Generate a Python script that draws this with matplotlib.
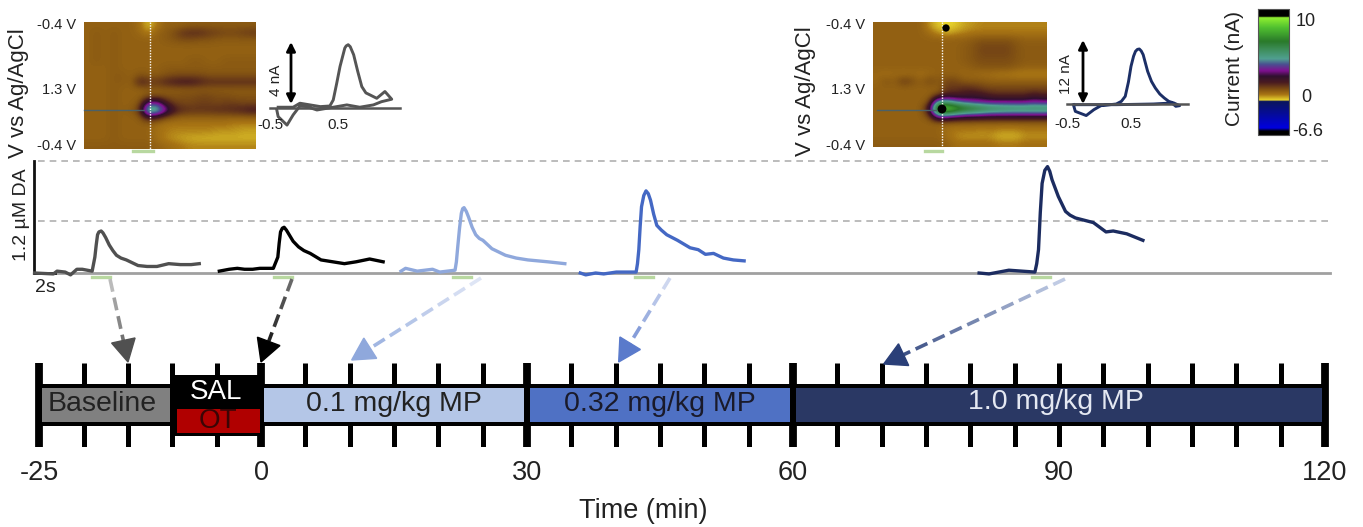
import matplotlib
matplotlib.use('Agg')
import matplotlib.pyplot as plt
import numpy as np
from matplotlib.colors import LinearSegmentedColormap, Normalize

W, H = 1363, 527
plt.rcParams['font.family'] = ['Liberation Sans', 'DejaVu Sans']
TXT = '#222222'

# DA traces: seconds from stim onset, uM DA
t1 = [-6.6, -4.5, -4.1, -3.2, -2.6, -1.9, -1.3, -0.2, 0.1, 0.25, 0.4, 0.55, 0.8, 1.0, 1.3, 1.7, 2.1, 2.5, 3.0, 3.6, 4.9, 5.9, 7.0, 8.3, 9.6, 10.8, 11.7]
v1 = [0.0, -0.01, 0.02, 0.01, -0.02, 0.04, 0.04, 0.02, 0.17, 0.30, 0.41, 0.44, 0.45, 0.43, 0.38, 0.30, 0.24, 0.19, 0.16, 0.14, 0.08, 0.07, 0.07, 0.10, 0.09, 0.09, 0.10]
t2 = [-6.3, -5.2, -4.3, -3.5, -2.6, -1.8, -0.3, 0.2, 0.35, 0.5, 0.7, 0.9, 1.15, 1.4, 1.9, 2.5, 3.1, 3.8, 5.0, 6.3, 7.6, 8.9, 10.4, 11.9]
v2 = [0.02, 0.04, 0.05, 0.04, 0.04, 0.05, 0.05, 0.17, 0.32, 0.44, 0.48, 0.49, 0.46, 0.42, 0.34, 0.28, 0.24, 0.21, 0.14, 0.12, 0.10, 0.12, 0.15, 0.12]
t3 = [-6.0, -5.5, -4.2, -2.5, -1.7, 0.0, 0.15, 0.3, 0.5, 0.7, 0.85, 1.0, 1.25, 1.5, 1.9, 2.3, 2.7, 3.1, 4.1, 5.6, 6.8, 8.1, 10.3, 12.2]
v3 = [0.02, 0.05, 0.02, 0.04, 0.01, 0.03, 0.12, 0.28, 0.48, 0.64, 0.69, 0.70, 0.66, 0.60, 0.49, 0.41, 0.37, 0.35, 0.26, 0.19, 0.16, 0.14, 0.12, 0.10]
t4 = [-6.3, -5.7, -4.6, -3.7, -2.3, -0.1, 0.05, 0.2, 0.35, 0.5, 0.75, 1.0, 1.25, 1.5, 1.85, 2.2, 2.7, 3.3, 4.5, 5.9, 6.8, 7.6, 8.5, 9.6, 10.7, 11.9]
v4 = [0.0, -0.02, 0.0, -0.01, 0.01, 0.01, 0.10, 0.25, 0.50, 0.71, 0.83, 0.88, 0.85, 0.78, 0.63, 0.51, 0.46, 0.41, 0.35, 0.27, 0.25, 0.20, 0.21, 0.16, 0.14, 0.13]
t5 = [-6.1, -5.0, -2.8, 0.1, 0.3, 0.5, 0.7, 0.9, 1.2, 1.5, 1.75, 2.0, 2.7, 3.5, 4.0, 4.6, 6.6, 8.0, 8.8, 10.3, 12.1]
v5 = [0.0, -0.01, 0.03, 0.01, 0.10, 0.25, 0.65, 0.96, 1.10, 1.14, 1.09, 1.0, 0.82, 0.66, 0.62, 0.59, 0.54, 0.44, 0.45, 0.42, 0.35]
onsets = [10.44, 30.67, 50.56, 70.78, 114.89]
trace_colors = ['#505050', '#000000', '#8fa8dc', '#4468c4', '#1c2c60']

# cyclic voltammograms: V, nA
cv1_v = [-0.38, -0.25, -0.16, -0.06, 0.09, 0.24, 0.38, 0.43, 0.48, 0.53, 0.57, 0.60, 0.62, 0.65, 0.68, 0.73, 0.79, 0.85, 0.91, 0.97, 1.07, 1.19, 1.29, 1.14, 1.02, 0.82, 0.63, 0.43, 0.19, 0.04, -0.06, -0.16, -0.25, -0.38, -0.40]
cv1_i = [0.07, 0.07, 0.07, 0.33, 0.22, 0.11, 0.15, 0.54, 1.6, 2.72, 3.4, 3.91, 4.05, 4.13, 4.0, 3.48, 2.4, 1.41, 1.0, 0.87, 0.65, 1.09, 0.59, 0.43, 0.22, 0.07, 0.22, 0.07, -0.11, 0.11, 0.15, -0.43, -1.09, -0.54, -0.11]
cv2_v = [-0.40, -0.37, -0.20, -0.08, 0.03, 0.27, 0.35, 0.41, 0.46, 0.50, 0.54, 0.57, 0.60, 0.63, 0.66, 0.69, 0.76, 0.82, 0.88, 0.95, 1.02, 1.09, 1.17, 1.26, 1.20, 1.14, 0.85, 0.27, -0.37]
cv2_i = [-0.13, -1.4, -2.2, -1.08, -0.32, 0.0, 0.51, 1.46, 4.2, 7.17, 9.1, 10.03, 10.4, 10.48, 10.1, 9.4, 6.22, 4.3, 3.05, 1.9, 1.14, 0.5, 0.19, -0.32, -0.44, 0.19, 0.0, -0.13, -0.13]

# colour plots, nA (rows top to bottom, columns in time)
heat1 = [
    [1.0, 1.0, 1.0, 1.0, 1.0, 1.0, 0.8, 0.2, 0.7, 1.0, 1.0, 1.0, 1.1, 1.1, 1.1, 1.1, 1.1, 1.1, 1.1, 1.1],
    [1.0, 1.1, 1.0, 1.1, 1.0, 1.0, 0.9, 0.6, 1.0, 1.1, 1.3, 1.7, 1.8, 1.8, 1.6, 1.5, 1.4, 1.4, 1.5, 1.6],
    [1.0, 1.1, 1.0, 1.1, 1.0, 1.0, 1.0, 1.0, 1.0, 1.1, 1.2, 1.3, 1.3, 1.2, 1.2, 1.1, 1.1, 1.1, 1.1, 1.1],
    [1.0, 1.1, 1.0, 1.1, 1.0, 1.0, 1.0, 1.0, 1.0, 1.0, 1.0, 1.0, 1.0, 1.0, 1.0, 1.0, 1.0, 1.0, 1.0, 1.0],
    [1.0, 1.1, 1.0, 1.1, 1.0, 1.0, 1.0, 1.0, 1.0, 1.0, 1.0, 1.0, 1.0, 1.0, 1.0, 1.0, 1.0, 1.0, 1.0, 1.0],
    [1.0, 1.1, 1.0, 1.1, 1.0, 1.0, 1.0, 1.0, 1.0, 1.0, 1.0, 1.0, 1.1, 1.1, 1.0, 1.0, 1.1, 1.1, 1.1, 1.1],
    [1.0, 1.0, 1.0, 1.1, 1.0, 1.0, 1.0, 1.0, 1.0, 1.1, 1.1, 1.1, 1.1, 1.1, 1.1, 1.1, 1.1, 1.1, 1.1, 1.1],
    [1.0, 1.0, 1.0, 1.1, 1.1, 1.0, 1.2, 1.1, 1.1, 1.2, 1.3, 1.3, 1.3, 1.3, 1.2, 1.2, 1.2, 1.2, 1.2, 1.2],
    [1.0, 1.0, 1.0, 1.1, 1.1, 1.0, 2.0, 1.7, 1.6, 1.9, 2.1, 2.2, 2.2, 2.0, 1.8, 1.8, 1.8, 1.8, 1.8, 1.8],
    [1.0, 1.0, 1.0, 1.1, 1.0, 1.0, 1.0, 1.1, 1.1, 1.1, 1.1, 1.1, 1.1, 1.1, 1.1, 1.1, 1.1, 1.1, 1.1, 1.1],
    [1.0, 1.0, 1.0, 1.1, 1.0, 1.0, 1.0, 1.2, 1.2, 1.2, 1.2, 1.3, 1.3, 1.4, 1.4, 1.3, 1.3, 1.2, 1.2, 1.2],
    [1.0, 1.0, 1.0, 1.1, 1.0, 1.0, 1.2, 3.4, 3.6, 2.2, 1.5, 1.4, 1.4, 1.5, 1.5, 1.4, 1.5, 1.5, 1.4, 1.4],
    [1.0, 1.0, 1.0, 1.1, 1.0, 1.1, 1.6, 5.8, 5.4, 3.6, 2.2, 1.8, 1.7, 1.7, 1.7, 1.8, 1.8, 1.9, 2.0, 2.2],
    [1.0, 1.0, 1.0, 1.1, 1.0, 1.0, 1.1, 2.2, 1.9, 1.3, 1.1, 1.0, 1.0, 1.0, 1.0, 1.0, 1.0, 1.0, 1.0, 1.0],
    [1.0, 1.0, 1.0, 1.1, 1.0, 1.0, 1.0, 1.0, 0.8, 0.7, 0.7, 0.7, 0.7, 0.7, 0.7, 0.7, 0.7, 0.6, 0.6, 0.6],
    [1.0, 1.0, 1.0, 1.1, 1.0, 1.0, 1.0, 1.0, 0.8, 0.7, 0.6, 0.6, 0.6, 0.6, 0.6, 0.5, 0.5, 0.5, 0.4, 0.4],
    [1.0, 1.0, 1.0, 1.1, 1.0, 1.0, 1.0, 1.0, 0.8, 0.6, 0.5, 0.4, 0.35, 0.3, 0.3, 0.3, 0.3, 0.3, 0.3, 0.3],
    [1.1, 1.1, 1.1, 1.1, 1.1, 1.1, 1.1, 1.1, 1.0, 0.9, 0.8, 0.7, 0.6, 0.6, 0.6, 0.6, 0.6, 0.6, 0.6, 0.6],
]
heat2 = [
    [1.0, 1.0, 1.0, 1.0, 1.0, 1.0, 0.5, 0.15, 0.05, 0.15, 0.4, 0.5, 0.6, 0.6, 0.6, 0.6, 0.6, 0.6, 0.6, 0.6],
    [1.0, 1.0, 1.0, 1.0, 1.0, 1.0, 0.8, 0.5, 0.3, 0.5, 0.6, 0.7, 0.7, 0.7, 0.7, 0.7, 0.7, 0.7, 0.7, 0.7],
    [1.0, 1.0, 1.0, 1.0, 1.0, 1.0, 1.0, 1.0, 1.0, 1.0, 1.0, 1.1, 1.2, 1.2, 1.2, 1.2, 1.1, 1.0, 1.0, 1.0],
    [1.0, 1.0, 1.0, 1.0, 1.0, 1.0, 1.0, 1.0, 1.0, 1.0, 1.1, 1.2, 1.4, 1.4, 1.4, 1.4, 1.2, 1.1, 1.1, 1.1],
    [1.0, 1.0, 1.0, 1.0, 1.0, 1.0, 1.0, 1.0, 1.0, 1.0, 1.1, 1.2, 1.4, 1.4, 1.4, 1.4, 1.2, 1.1, 1.1, 1.1],
    [1.0, 1.0, 1.0, 1.0, 1.0, 1.0, 1.0, 1.0, 1.0, 1.0, 1.1, 1.2, 1.3, 1.3, 1.3, 1.3, 1.2, 1.1, 1.1, 1.1],
    [1.0, 1.0, 1.0, 1.0, 1.0, 1.0, 1.0, 1.0, 1.0, 1.0, 1.0, 1.1, 1.2, 1.2, 1.2, 1.2, 1.1, 1.0, 1.0, 1.0],
    [0.9, 0.8, 0.9, 0.8, 0.9, 0.8, 0.9, 1.0, 1.0, 1.0, 0.9, 0.9, 0.8, 0.8, 0.7, 0.7, 0.6, 0.6, 0.6, 0.6],
    [0.9, 1.2, 1.0, 1.6, 1.3, 1.0, 1.4, 1.1, 1.4, 1.4, 1.1, 1.1, 1.1, 1.0, 1.0, 1.0, 1.0, 1.0, 1.0, 1.0],
    [1.0, 1.0, 1.0, 1.0, 1.0, 1.0, 1.0, 1.0, 1.6, 1.6, 1.8, 1.7, 1.5, 1.4, 1.4, 1.4, 1.4, 1.4, 1.4, 1.4],
    [1.0, 1.0, 1.0, 1.0, 1.0, 1.0, 1.0, 1.3, 2.0, 2.0, 2.1, 2.3, 2.2, 1.9, 1.8, 1.8, 1.8, 1.8, 2.1, 1.9],
    [1.0, 1.0, 1.0, 1.0, 1.0, 1.0, 1.2, 5.0, 5.0, 4.2, 3.7, 3.4, 3.2, 3.1, 3.1, 3.1, 3.1, 3.1, 3.4, 3.2],
    [1.0, 1.0, 1.0, 1.0, 1.0, 1.0, 2.4, 8.5, 9.0, 8.2, 7.4, 7.0, 6.6, 6.2, 6.0, 5.9, 5.8, 5.8, 5.8, 5.8],
    [1.0, 1.0, 1.0, 1.0, 1.0, 1.0, 1.4, 4.2, 3.9, 3.4, 3.1, 3.0, 2.9, 2.8, 2.8, 2.8, 2.8, 2.8, 2.8, 2.8],
    [1.0, 1.0, 1.0, 1.0, 1.0, 1.0, 1.0, 1.0, 1.0, 1.0, 1.0, 1.0, 1.0, 1.0, 1.0, 1.0, 1.0, 1.0, 1.0, 1.0],
    [1.0, 1.0, 1.0, 1.0, 1.0, 1.0, 1.0, 1.0, 0.8, 0.7, 0.7, 0.7, 0.6, 0.7, 0.6, 0.6, 0.6, 0.7, 0.7, 0.7],
    [1.0, 1.0, 1.0, 1.0, 1.0, 1.0, 1.0, 1.0, 0.8, 0.6, 0.5, 0.5, 0.5, 0.5, 0.3, 0.3, 0.3, 0.5, 0.5, 0.5],
    [1.1, 1.1, 1.1, 1.1, 1.1, 1.1, 1.1, 1.1, 1.0, 0.8, 0.8, 0.8, 0.8, 0.8, 0.7, 0.7, 0.7, 0.8, 0.8, 0.8],
]

# colour scale, nA
cmap_vals = [-6.6, -5.9, -5.3, -0.25, -0.01, 0.01, 0.7, 1.2, 2.0, 2.7, 3.3, 4.0, 4.6, 5.5, 6.5, 8.0, 9.1, 9.25, 10.0]
cmap_cols = ['#000000', '#000000', '#0000e0', '#0a1560', '#0a1560', '#f0e030', '#a87414', '#845412', '#4a1c20', '#301030',
             '#801090', '#4a5090', '#50a090', '#409060', '#2a7a2a', '#50c030', '#90f030', '#000000', '#000000']

# timeline, min
tick_min = list(range(-25, 125, 5))
heavy_ticks = [-25, 0, 30, 60, 120]
label_ticks = [-25, 0, 30, 60, 90, 120]
phase_start = [-25, 0, 30, 60]
phase_end = [-10, 30, 60, 120]
phase_cols = ['#808080', '#b4c6e7', '#4f71c4', '#2a3864']
phase_names = ['Baseline', '0.1 mg/kg MP', '0.32 mg/kg MP', '1.0 mg/kg MP']
phase_txt = ['#222222', '#222222', '#1a1a2a', '#e4e8f2']
phase_txt_x = [-17.9, 15.0, 45.0, 89.6]
arrow_targets = [-15, 0, 10, 40, 70]


def px_axes(x0, y0, x1, y1):
    a = fig.add_axes([x0 / W, 1 - y1 / H, (x1 - x0) / W, (y1 - y0) / H])
    a.set_axis_off()
    return a


fig = plt.figure(figsize=(W / 100, H / 100), dpi=100)
pos = [(v - cmap_vals[0]) / (cmap_vals[-1] - cmap_vals[0]) for v in cmap_vals]
cmap = LinearSegmentedColormap.from_list('fscv', list(zip(pos, cmap_cols)), N=512)
norm = Normalize(cmap_vals[0], cmap_vals[-1])

# overlay in picture pixels, for labels and arrows
over = px_axes(0, 0, W, H)
over.set_xlim(0, W)
over.set_ylim(H, 0)
over.set_zorder(5)

# colour plots
for heat, box, stim_x in [(heat1, (84, 22, 256, 149), 150), (heat2, (873, 22, 1047, 147), 942)]:
    a = px_axes(*box)
    a.imshow(np.array(heat), cmap=cmap, norm=norm, aspect='auto', interpolation='bicubic')
    over.plot([box[0] + 4 if stim_x > 500 else box[0], stim_x - 6], [110, 110], color='#4a6068', lw=1, zorder=3)
    over.plot([stim_x, stim_x], [box[1], box[3]], color='white', lw=1, ls=(0, (1, 1)), zorder=3)
    over.plot([stim_x - 17, stim_x + 3 if stim_x < 500 else stim_x], [150.5, 150.5], color='#b8d8a0', lw=2.4, zorder=3)
    right = box[0] - 8
    for y, s in zip([25, 90, 146], ['-0.4 V', '1.3 V', '-0.4 V']):
        over.text(right, y, s, ha='right', va='center', fontsize=10.5, color=TXT)
# saturated spots on the 1.0 mg/kg plot
over.scatter([946, 942], [28, 109], s=[28, 40], marker='o', color='black', zorder=3, linewidths=0)

over.text(19, 93, 'V vs Ag/AgCl', rotation=90, ha='center', va='center', fontsize=16, color=TXT)
over.text(805, 91, 'V vs Ag/AgCl', rotation=90, ha='center', va='center', fontsize=16, color=TXT)

# voltammograms
for cv_v, cv_i, col, x05, pxv, y0, pxi, xr in [(cv1_v, cv1_i, '#555555', 338, 68, 108.3, 15.4, (270, 400)),
                                               (cv2_v, cv2_i, '#1c2f66', 1131, 64, 104, 5.25, (1067, 1188))]:
    a = px_axes(x05 - pxv, y0 - 70, x05 + pxv, y0 + 30)
    a.set_xlim(-0.5, 1.5)
    a.set_ylim(-30 / pxi, 70 / pxi)
    over.plot(xr, [y0, y0], color='#555555', lw=1.8, zorder=2)
    a.plot(cv_v, cv_i, color=col, lw=2.1, clip_on=False, solid_joinstyle='round')

for x, y0, y1 in [(291, 42, 104), (1083, 40, 104)]:
    over.annotate('', xy=(x, y0), xytext=(x, y1),
                  arrowprops=dict(arrowstyle='<|-|>', color='black', lw=2, mutation_scale=13, shrinkA=0, shrinkB=0))
over.text(276, 80, '4 nA', rotation=90, ha='center', va='center', fontsize=11, color=TXT)
over.text(1066, 74, '12 nA', rotation=90, ha='center', va='center', fontsize=11, color=TXT)
over.text(270, 125, '-0.5', ha='center', va='center', fontsize=11, color=TXT)
over.text(338, 125, '0.5', ha='center', va='center', fontsize=11, color=TXT)
over.text(1067, 124, '-0.5', ha='center', va='center', fontsize=11, color=TXT)
over.text(1131, 124, '0.5', ha='center', va='center', fontsize=11, color=TXT)

# colour bar
cb = px_axes(1258, 9, 1289, 135)
cb_vals = np.interp(np.linspace(1, 0, 256), [0, 0.27, 1], [-6.6, 0, 10]).reshape(-1, 1)
cb.imshow(cb_vals, cmap=cmap, norm=norm, aspect='auto', interpolation='bilinear')
over.plot([1258, 1289, 1289, 1258, 1258], [9, 9, 135, 135, 9], color='#555555', lw=0.8, zorder=3)
over.text(1235, 68, 'Current (nA)', rotation=90, ha='center', va='center', fontsize=15, color=TXT)
over.text(1306, 21, '10', ha='center', va='center', fontsize=13, color=TXT)
over.text(1306, 97, '0', ha='center', va='center', fontsize=13, color=TXT)
over.text(1308, 131, '-6.6', ha='center', va='center', fontsize=13, color=TXT)

# DA traces
tr = px_axes(0, 161, W, 273)
tr.set_xlim(0, W / 9)
tr.set_ylim(0, 1.2)
for y in [1.2, 0.56]:
    tr.plot([38 / 9, 1330 / 9], [y, y], color='#b0b0b0', lw=1.2, ls=(0, (4, 3)), clip_on=False)
tr.plot([35 / 9, 1330 / 9], [0, 0], color='#a0a0a0', lw=2, clip_on=False)
tr.plot([34 / 9, 34 / 9], [0, 1.2], color='#111111', lw=2, clip_on=False)
tr.plot([35 / 9, 55 / 9], [0, 0], color='#111111', lw=2, clip_on=False)
for t, v, on, col in zip([t1, t2, t3, t4, t5], [v1, v2, v3, v4, v5], onsets, trace_colors):
    tr.plot(np.array(t) + on, v, color=col, lw=2.4, solid_joinstyle='round', clip_on=False)
    tr.plot([on - 0.2, on + 1.8], [-0.04, -0.04], color='#b8d8a0', lw=2.4, clip_on=False)
over.text(22, 215, '1.2 µM DA', rotation=90, ha='center', va='center', fontsize=14, color=TXT)
over.text(45, 288, '2s', ha='center', va='center', fontsize=14, color=TXT)

# timeline
px_per_min = 8.867
x_zero = 261
tl = fig.add_axes([0, 1 - 447 / H, 1, 84 / H])
tl.set_xlim(-x_zero / px_per_min, (W - x_zero) / px_per_min)
tl.set_ylim(447, 363)
tl.patch.set_visible(False)
for s in tl.spines.values():
    s.set_visible(False)
tl.set_yticks([])
for m in tick_min:
    lw = 5.6 if m in heavy_ticks else 3.6
    tl.plot([m, m], [363, 447], color='black', lw=lw, solid_capstyle='butt')
tl.barh(405, 145, left=-25, height=42, color='black')
tl.barh(405.5, 10.2, left=-10.1, height=61, color='black', clip_on=False, zorder=3)
tl.barh(420.5, 9.4, left=-9.5, height=24, color='#b00000', zorder=4)
for a0, a1, col, name, tc, tx in zip(phase_start, phase_end, phase_cols, phase_names, phase_txt, phase_txt_x):
    tl.barh(405, a1 - a0 - 0.6, left=a0 + 0.3, height=34, color=col, zorder=2)
    tl.text(tx, 404 if a0 != 60 else 402, name, ha='center', va='center', fontsize=20.5, color=tc, zorder=5)
tl.text(-5.1, 392, 'SAL', ha='center', va='center', fontsize=20, color='white', zorder=5)
tl.text(-4.9, 421, 'OT', ha='center', va='center', fontsize=20, color='#3a0505', zorder=5)
tl.set_xticks(label_ticks)
tl.set_xticklabels([str(x) for x in label_ticks], fontsize=19.5, color=TXT)
tl.tick_params(axis='x', length=0, pad=9)
tl.set_xlabel('Time (min)', fontsize=19.5, color=TXT, labelpad=9, x=643 / W)

# dashed arrows, fading towards the start
arrow_starts = [(110, 279), (292, 279), (481, 278), (670, 278), (1065, 279)]
arrow_tips_y = [362, 362, 360, 362, 364]
arrow_fade = [('#c4c4c4', '#505050'), ('#707070', '#000000'), ('#e2e8f6', '#8fa8dc'), ('#d6def2', '#5a7acb'), ('#c5d0e8', '#2a3f78')]
arrow_dx = [0, 0, 2, 3, 2]
for m, st, ty, (c0, c1), dx in zip(arrow_targets, arrow_starts, arrow_tips_y, arrow_fade, arrow_dx):
    tip = np.array([x_zero + m * px_per_min + dx, ty])
    st = np.array(st, float)
    d = tip - st
    L = np.hypot(*d)
    u = d / L
    n = np.array([-u[1], u[0]])
    base = tip - u * 22
    c0 = np.array(matplotlib.colors.to_rgb(c0))
    c1 = np.array(matplotlib.colors.to_rgb(c1))
    pos_d = 0.0
    while pos_d < L - 22:
        e = min(pos_d + 13, L - 22)
        f = (pos_d + e) / 2 / L
        p0, p1 = st + u * pos_d, st + u * e
        over.plot([p0[0], p1[0]], [p0[1], p1[1]], color=c0 + (c1 - c0) * f, lw=2.6, solid_capstyle='butt', zorder=4)
        pos_d += 19
    over.fill(*zip(tip, base + n * 12, base - n * 12), color=c1, zorder=4)

fig.savefig('out.png', dpi=100)
